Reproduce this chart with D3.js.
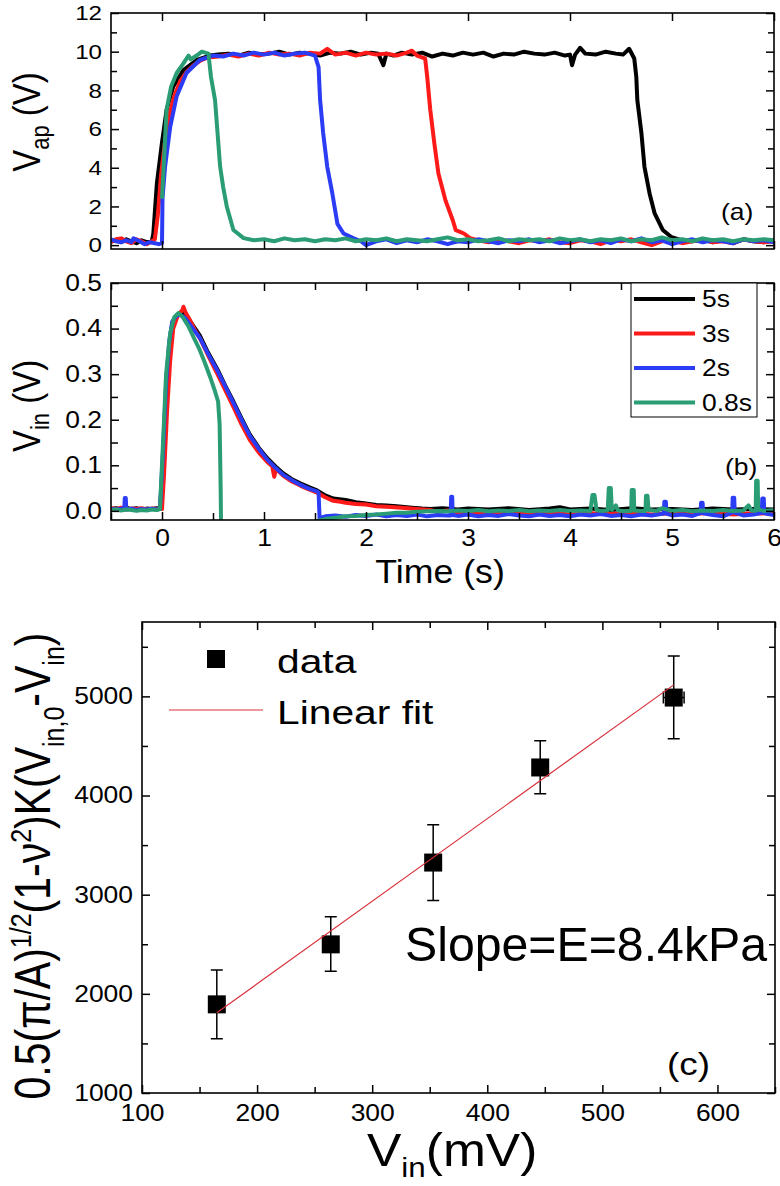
<!DOCTYPE html>
<html><head><meta charset="utf-8">
<script src="https://cdn.jsdelivr.net/npm/d3@7"></script>
<style>
body{margin:0;background:#fff}
svg{display:block}
text{font-family:"Liberation Sans",Arial,sans-serif;fill:#000}
</style>
</head><body>
<svg id="c" width="780" height="1186"></svg>
<script>
// ---------------- DATA ----------------
// Panel (a): V_ap (V) vs time (s), one [t, V] list per pulse length
const vap5s = [[-0.5,0.2],[-0.45,0.25],[-0.4,0.15],[-0.35,0.3],[-0.3,0.2],[-0.25,0.1],[-0.2,0.25],[-0.15,0.15],[-0.1,0.2],[-0.085,0.6],[-0.05,3.2],[0,5.3],[0.045,7.0],[0.11,8.2],[0.21,9.05],[0.34,9.57],[0.47,9.8],[0.55,9.85],[0.65,9.9],[0.75,9.8],[0.85,9.95],[0.95,9.85],[1.05,9.9],[1.15,10.0],[1.25,9.85],[1.35,9.95],[1.45,9.9],[1.55,9.8],[1.65,9.95],[1.75,9.9],[1.85,10.0],[1.95,9.85],[2.05,9.95],[2.12,9.9],[2.17,9.3],[2.2,9.9],[2.27,9.8],[2.35,9.95],[2.45,9.85],[2.55,9.95],[2.65,9.75],[2.75,9.9],[2.85,9.8],[2.95,9.95],[3.05,9.85],[3.15,9.95],[3.25,9.75],[3.35,9.9],[3.45,9.85],[3.55,10.0],[3.65,9.9],[3.75,9.85],[3.85,9.95],[3.95,9.8],[4.0,9.85],[4.02,9.3],[4.05,9.85],[4.1,10.2],[4.15,9.9],[4.25,9.85],[4.35,10.0],[4.45,9.9],[4.52,9.85],[4.58,10.15],[4.63,9.65],[4.65,8.7],[4.66,7.5],[4.7,5.8],[4.73,4.05],[4.78,2.67],[4.83,1.64],[4.91,0.78],[4.99,0.43],[5.09,0.26],[5.2,0.2],[5.3,0.3],[5.4,0.15],[5.5,0.25],[5.6,0.1],[5.7,0.3],[5.8,0.2],[5.9,0.15],[6.0,0.25]];
const vap3s = [[-0.5,0.15],[-0.45,0.3],[-0.4,0.35],[-0.35,0.2],[-0.3,0.1],[-0.25,0.3],[-0.2,0.2],[-0.15,0.05],[-0.1,0.2],[-0.07,0.3],[-0.04,1.6],[-0.01,3.6],[0.03,5.4],[0.07,6.7],[0.12,7.7],[0.18,8.5],[0.25,9.0],[0.31,9.3],[0.38,9.55],[0.45,9.7],[0.55,9.75],[0.65,9.85],[0.75,9.75],[0.85,9.9],[0.95,9.8],[1.05,9.95],[1.15,9.85],[1.25,9.9],[1.35,9.8],[1.45,9.95],[1.55,9.9],[1.62,10.15],[1.7,9.85],[1.8,9.95],[1.9,9.8],[2.0,9.95],[2.1,9.85],[2.2,9.9],[2.3,9.8],[2.4,9.95],[2.45,10.05],[2.5,9.8],[2.55,9.7],[2.58,9.65],[2.6,8.7],[2.63,7.0],[2.67,5.26],[2.71,3.7],[2.78,2.3],[2.85,1.3],[2.88,0.78],[2.96,0.6],[3.02,0.36],[3.1,0.25],[3.2,0.15],[3.3,0.3],[3.4,0.2],[3.5,0.1],[3.6,0.25],[3.7,0.2],[3.8,0.3],[3.9,0.15],[4.0,0.1],[4.1,0.25],[4.2,0.2],[4.3,0.05],[4.4,0.25],[4.5,0.2],[4.6,0.3],[4.7,0.15],[4.8,0.0],[4.9,0.2],[5.0,0.25],[5.1,0.1],[5.2,0.2],[5.3,0.3],[5.4,0.15],[5.5,0.2],[5.6,0.1],[5.7,0.3],[5.8,0.2],[5.9,0.15],[6.0,0.2]];
const vap2s = [[-0.5,0.3],[-0.45,0.2],[-0.4,0.15],[-0.35,0.25],[-0.3,0.15],[-0.28,0.35],[-0.22,0.2],[-0.17,0.05],[-0.12,0.15],[-0.07,0.1],[-0.03,0.05],[0.0,0.1],[0.005,2.4],[0.03,4.05],[0.08,6.1],[0.144,7.7],[0.24,8.9],[0.37,9.57],[0.5,9.8],[0.6,9.75],[0.7,9.9],[0.8,9.8],[0.9,9.95],[1.0,9.85],[1.1,9.95],[1.2,9.8],[1.3,9.9],[1.4,9.95],[1.5,9.8],[1.535,9.2],[1.55,7.5],[1.58,5.8],[1.62,4.05],[1.67,2.67],[1.72,1.1],[1.78,0.6],[1.88,0.35],[1.95,0.2],[2.0,0.0],[2.1,0.2],[2.2,0.3],[2.3,0.1],[2.4,0.25],[2.5,0.15],[2.6,0.3],[2.7,0.2],[2.8,0.05],[2.9,0.2],[3.0,0.15],[3.1,0.3],[3.2,0.2],[3.3,0.1],[3.4,0.25],[3.5,0.2],[3.6,0.3],[3.7,0.15],[3.8,0.25],[3.9,0.1],[4.0,0.2],[4.1,0.3],[4.2,0.15],[4.3,0.25],[4.4,0.1],[4.5,0.3],[4.6,0.2],[4.7,0.35],[4.8,0.15],[4.9,0.25],[5.0,0.05],[5.1,0.2],[5.2,0.3],[5.3,0.15],[5.4,0.25],[5.5,0.2],[5.6,0.1],[5.7,0.3],[5.8,0.2],[5.9,0.25],[6.0,0.15]];
const vap08s = [[0.0,2.4],[0.045,7.0],[0.09,8.2],[0.144,8.9],[0.21,9.4],[0.26,9.8],[0.28,9.6],[0.34,9.8],[0.39,10.0],[0.455,9.9],[0.48,8.7],[0.52,7.5],[0.57,4.05],[0.6,3.0],[0.635,2.0],[0.7,0.78],[0.8,0.36],[0.9,0.25],[1.0,0.3],[1.1,0.2],[1.2,0.35],[1.3,0.25],[1.4,0.3],[1.5,0.2],[1.6,0.3],[1.7,0.25],[1.8,0.35],[1.9,0.2],[2.0,0.3],[2.1,0.25],[2.2,0.35],[2.3,0.2],[2.4,0.3],[2.5,0.25],[2.6,0.2],[2.7,0.3],[2.8,0.4],[2.9,0.25],[3.0,0.3],[3.1,0.2],[3.2,0.25],[3.3,0.35],[3.4,0.2],[3.5,0.3],[3.6,0.25],[3.7,0.3],[3.8,0.2],[3.9,0.35],[4.0,0.25],[4.1,0.3],[4.2,0.2],[4.3,0.3],[4.4,0.25],[4.5,0.35],[4.6,0.2],[4.7,0.3],[4.8,0.25],[4.9,0.4],[5.0,0.25],[5.1,0.3],[5.2,0.2],[5.3,0.35],[5.4,0.25],[5.5,0.3],[5.6,0.2],[5.7,0.3],[5.8,0.25],[5.9,0.3],[6.0,0.25]];

// Panel (b): V_in (V) vs time (s)
const vin5s = [[-0.5,0.004],[-0.45,0.006],[-0.4,0.003],[-0.35,0.007],[-0.3,0.004],[-0.25,0.006],[-0.2,0.002],[-0.15,0.005],[-0.1,0.004],[-0.05,0.006],[-0.02,0.004],[0.01,0.1],[0.04,0.25],[0.07,0.35],[0.1,0.41],[0.15,0.43],[0.2,0.435],[0.25,0.425],[0.3,0.408],[0.37,0.385],[0.45,0.348],[0.54,0.312],[0.62,0.275],[0.7,0.24],[0.78,0.203],[0.86,0.168],[0.95,0.138],[1.03,0.116],[1.11,0.098],[1.19,0.082],[1.27,0.07],[1.36,0.06],[1.44,0.052],[1.52,0.045],[1.6,0.034],[1.68,0.027],[1.8,0.024],[1.9,0.019],[1.98,0.017],[2.1,0.013],[2.2,0.012],[2.3,0.01],[2.45,0.007],[2.55,0.005],[2.63,0.004],[2.75,0.006],[2.9,0.003],[3.0,0.005],[3.2,0.003],[3.4,0.006],[3.6,0.002],[3.8,0.005],[3.9,0.008],[4.0,0.003],[4.2,0.005],[4.4,0.002],[4.6,0.006],[4.8,0.003],[5.0,0.004],[5.2,0.002],[5.4,0.005],[5.6,0.003],[5.8,0.004],[6.0,0.003]];
const vin3s = [[-0.5,0.006],[-0.45,0.004],[-0.4,0.007],[-0.35,0.003],[-0.3,0.005],[-0.25,0.004],[-0.2,0.006],[-0.15,0.003],[-0.1,0.005],[-0.05,0.004],[0.0,0.004],[0.02,0.08],[0.05,0.22],[0.08,0.33],[0.11,0.4],[0.16,0.432],[0.2,0.44],[0.21,0.448],[0.23,0.436],[0.27,0.42],[0.32,0.398],[0.38,0.375],[0.45,0.342],[0.54,0.302],[0.62,0.265],[0.7,0.228],[0.78,0.19],[0.86,0.156],[0.95,0.128],[1.03,0.108],[1.08,0.098],[1.1,0.075],[1.12,0.092],[1.19,0.077],[1.27,0.065],[1.36,0.055],[1.44,0.047],[1.52,0.04],[1.6,0.03],[1.68,0.022],[1.75,0.02],[1.8,0.018],[1.9,0.015],[2.0,0.014],[2.1,0.01],[2.2,0.009],[2.35,0.007],[2.5,0.004],[2.63,0.002],[2.7,-0.002],[2.8,0.001],[2.9,-0.003],[3.0,-0.004],[3.2,-0.006],[3.4,-0.003],[3.6,-0.007],[3.8,-0.004],[4.0,-0.008],[4.2,-0.005],[4.4,-0.007],[4.6,-0.004],[4.8,-0.008],[5.0,-0.005],[5.2,-0.007],[5.4,-0.004],[5.6,-0.008],[5.8,-0.005],[6.0,-0.006]];
const vin2s = [[-0.5,0.004],[-0.45,0.003],[-0.4,0.005],[-0.37,0.004],[-0.365,0.028],[-0.355,0.028],[-0.35,0.003],[-0.3,0.005],[-0.25,0.002],[-0.2,0.004],[-0.15,0.003],[-0.1,0.005],[-0.05,0.003],[-0.02,0.005],[0.01,0.13],[0.04,0.28],[0.07,0.37],[0.1,0.415],[0.14,0.428],[0.18,0.43],[0.22,0.425],[0.27,0.41],[0.32,0.395],[0.37,0.38],[0.45,0.345],[0.54,0.309],[0.62,0.273],[0.7,0.237],[0.78,0.2],[0.86,0.165],[0.95,0.136],[1.03,0.113],[1.11,0.095],[1.19,0.079],[1.27,0.068],[1.36,0.057],[1.44,0.049],[1.52,0.043],[1.535,0.04],[1.545,-0.016],[1.6,-0.012],[1.7,-0.01],[1.8,-0.013],[1.9,-0.009],[2.0,-0.011],[2.1,-0.008],[2.2,-0.012],[2.3,-0.009],[2.4,-0.011],[2.5,-0.008],[2.6,-0.012],[2.7,-0.009],[2.8,-0.01],[2.83,-0.01],[2.835,0.031],[2.845,0.031],[2.85,-0.009],[2.9,-0.011],[3.0,-0.008],[3.1,-0.012],[3.2,-0.009],[3.3,-0.011],[3.4,-0.007],[3.5,-0.01],[3.6,-0.012],[3.7,-0.008],[3.8,-0.011],[3.9,-0.009],[4.0,-0.012],[4.1,-0.008],[4.2,-0.01],[4.3,-0.007],[4.4,-0.011],[4.5,-0.009],[4.6,-0.012],[4.7,-0.008],[4.8,-0.01],[4.92,-0.006],[4.925,0.02],[4.94,0.02],[4.945,-0.006],[5.0,-0.01],[5.1,-0.008],[5.2,-0.011],[5.28,-0.005],[5.285,0.018],[5.3,0.018],[5.305,-0.005],[5.4,-0.009],[5.5,-0.012],[5.59,-0.004],[5.595,0.029],[5.61,0.029],[5.615,-0.004],[5.7,-0.01],[5.8,-0.008],[5.88,-0.004],[5.885,0.027],[5.9,0.027],[5.905,-0.005],[6.0,-0.009]];
const vin08s = [[-0.5,0.002],[-0.45,0.003],[-0.4,0.001],[-0.35,0.003],[-0.3,0.002],[-0.25,0.0],[-0.2,0.002],[-0.15,0.001],[-0.1,0.003],[-0.05,0.002],[-0.02,0.004],[0.01,0.15],[0.04,0.3],[0.08,0.39],[0.12,0.425],[0.16,0.434],[0.2,0.426],[0.26,0.405],[0.32,0.376],[0.37,0.353],[0.42,0.325],[0.47,0.295],[0.52,0.262],[0.55,0.24],[0.565,0.19],[0.575,0.05],[0.58,-0.05],[1.5,-0.05],[1.52,-0.022],[1.6,-0.018],[1.7,-0.015],[1.8,-0.012],[1.9,-0.011],[2.0,-0.009],[2.1,-0.008],[2.2,-0.006],[2.3,-0.004],[2.4,-0.004],[2.5,-0.002],[2.6,-0.001],[2.7,0.0],[2.8,-0.001],[2.9,0.001],[3.0,0.0],[3.1,0.002],[3.2,-0.001],[3.3,0.001],[3.4,0.0],[3.5,0.002],[3.6,-0.001],[3.7,0.001],[3.8,0.0],[3.9,0.002],[4.0,0.0],[4.1,0.001],[4.2,0.0],[4.22,0.035],[4.24,0.035],[4.26,0.002],[4.3,0.0],[4.37,0.001],[4.38,0.05],[4.4,0.05],[4.41,0.002],[4.45,0.012],[4.47,0.001],[4.52,0.0],[4.6,0.0],[4.605,0.046],[4.625,0.046],[4.63,0.001],[4.7,0.0],[4.74,0.0],[4.745,0.033],[4.76,0.033],[4.77,0.002],[4.85,0.0],[4.9,0.006],[5.0,0.0],[5.1,0.002],[5.2,-0.001],[5.3,0.001],[5.4,0.0],[5.5,0.002],[5.6,0.0],[5.7,0.001],[5.75,0.012],[5.78,0.001],[5.82,0.0],[5.825,0.066],[5.84,0.066],[5.845,0.003],[5.9,0.0],[6.0,0.002]];

const seriesNames = ["5s","3s","2s","0.8s"];
const seriesColors = ["#000000","#ff1a1a","#2b3cf5","#2a9d74"];

// Panel (c)
const vinMV = [165, 264, 353, 446, 562];
const stressVal = [1894, 2499, 3324, 4283, 4988];
const errLow = [1547, 2229, 2942, 4017, 4572];
const errHigh = [2241, 2777, 3705, 4553, 5408];
const xErr = [0, 0, 0, 0, 9];
const fitX = [165, 562];
const fitY = [1809, 5116];

// Tick values
const timeTicks = [0,1,2,3,4,5,6];
const timeMinor = [-0.5,0.5,1.5,2.5,3.5,4.5,5.5];
const vapTicks = [0,2,4,6,8,10,12];
const vapMinor = [1,3,5,7,9,11];
const vinTicks = [0.0,0.1,0.2,0.3,0.4,0.5];
const vinMinor = [0.05,0.15,0.25,0.35,0.45];
const cxTicks = [100,200,300,400,500,600];
const cxMinor = [150,250,350,450,550,650];
const cyTicks = [1000,2000,3000,4000,5000];
const cyMinor = [1500,2500,3500,4500,5500];

// ---------------- DRAW ----------------
const svg = d3.select("#c");
const SX = 1.15; // horizontal stretch of the original lettering

const xT = d3.scaleLinear().domain([-0.5,6]).range([111,774]);
const yA = d3.scaleLinear().domain([-0.2,12]).range([249,13]);
const yB = d3.scaleLinear().domain([-0.02,0.5]).range([520,283]);
const xC = d3.scaleLinear().domain([100,650]).range([142,775]);
const yC = d3.scaleLinear().domain([1000,5750]).range([1093,622]);

function clip(id, x0, y0, x1, y1){
  svg.append("clipPath").attr("id", id).append("rect")
    .attr("x", x0).attr("y", y0).attr("width", x1-x0).attr("height", y1-y0);
}
clip("clipA", 111, 13, 774, 249);
clip("clipB", 111, 283, 774, 520);

function stretchTicks(g, fs, sx){
  g.selectAll("text").each(function(){
    const t = d3.select(this);
    const x = +t.attr("x") || 0;
    t.attr("x", x/sx).attr("transform", `scale(${sx},1)`).attr("font-size", fs)
     .attr("font-family", '"Liberation Sans",Arial,sans-serif').attr("fill","#000");
  });
}

function axisSet(xs, ys, opt){
  const [x0,x1] = xs.range(); const [y0,y1] = ys.range(); // y0 bottom
  const mk = (gen, pos, scale, vals, size, labels, fmt, pad) => {
    const a = gen(scale).tickValues(vals).tickSizeInner(-size).tickSizeOuter(0).tickPadding(pad || 9)
      .tickFormat(labels ? fmt : () => "");
    const g = svg.append("g").attr("transform", pos).call(a);
    g.select(".domain").remove();
    g.selectAll("line").attr("stroke","#000").attr("stroke-width",1.5);
    return g;
  };
  const gl = mk(d3.axisLeft, `translate(${x0},0)`, ys, opt.yTicks, opt.yMaj, true, opt.yFmt, opt.ypad);
  stretchTicks(gl, opt.yFs, SX);
  mk(d3.axisLeft, `translate(${x0},0)`, ys, opt.yMinor, opt.yMin, false);
  mk(d3.axisRight, `translate(${x1},0)`, ys, opt.yTicks, opt.yMaj, false);
  mk(d3.axisRight, `translate(${x1},0)`, ys, opt.yMinor, opt.yMin, false);
  mk(d3.axisTop, `translate(0,${y1})`, xs, opt.xTicks, opt.xMaj, false);
  if (opt.xMinor) mk(d3.axisTop, `translate(0,${y1})`, xs, opt.xMinor, opt.xMin, false);
  const gb = mk(d3.axisBottom, `translate(0,${y0})`, xs, opt.xTicks, opt.xMaj, opt.xLabels, opt.xFmt, opt.xpad);
  if (opt.xLabels) stretchTicks(gb, opt.xFs, SX);
  if (opt.xMinor) mk(d3.axisBottom, `translate(0,${y0})`, xs, opt.xMinor, opt.xMin, false);
  svg.append("rect").attr("x", x0).attr("y", y1).attr("width", x1-x0).attr("height", y0-y1)
    .attr("fill","none").attr("stroke","#000").attr("stroke-width",1.6);
}

// ----- Panel (a)
const lineA = d3.line().x(d => xT(d[0])).y(d => yA(d[1]));
const gA = svg.append("g").attr("clip-path","url(#clipA)");
[vap5s, vap3s, vap2s, vap08s].forEach((s,i) => {
  gA.append("path").datum(s).attr("d", lineA).attr("fill","none")
    .attr("stroke", seriesColors[i]).attr("stroke-width", 4).attr("stroke-linejoin","round");
});
axisSet(xT, yA, {yTicks: vapTicks, yMinor: vapMinor, yMaj: 8, yMin: 6, yFs: 21, yFmt: d3.format("d"),
  xTicks: timeTicks, xMinor: null, xMaj: 8, xLabels: false});

// ----- Panel (b)
const lineB = d3.line().x(d => xT(d[0])).y(d => yB(d[1]));
const gB = svg.append("g").attr("clip-path","url(#clipB)");
[vin5s, vin3s, vin2s, vin08s].forEach((s,i) => {
  gB.append("path").datum(s).attr("d", lineB).attr("fill","none")
    .attr("stroke", seriesColors[i]).attr("stroke-width", 4).attr("stroke-linejoin","round");
});
axisSet(xT, yB, {yTicks: vinTicks, yMinor: vinMinor, yMaj: 8, yMin: 7, yFs: 23, yFmt: d3.format(".1f"),
  xTicks: timeTicks, xMinor: timeMinor, xMaj: 8, xMin: 7, xLabels: true, xFs: 23, xFmt: d3.format("d"), xpad: 10});

// legend (b)
const lg = svg.append("g");
lg.append("rect").attr("x",631).attr("y",283).attr("width",126).attr("height",134)
  .attr("fill","#fff").attr("stroke","#000").attr("stroke-width",1);
seriesNames.forEach((n,i) => {
  const y = 299 + i*34.5;
  lg.append("line").attr("x1",634).attr("x2",695).attr("y1",y).attr("y2",y)
    .attr("stroke",seriesColors[i]).attr("stroke-width",4);
  lg.append("text").attr("transform",`translate(702,${y+8}) scale(${SX},1)`).attr("font-size",23).text(n);
});

function label(x, y, fs, txt, anchor, sx){
  return svg.append("text").attr("transform",`translate(${x},${y}) scale(${sx||SX},1)`)
    .attr("font-size",fs).attr("text-anchor",anchor||"start").text(txt);
}
label(721, 220, 23, "(a)");
label(725, 475, 23, "(b)");

// axis titles (a),(b)
const ta = svg.append("text").attr("transform",`translate(40,122) scale(${SX},1) rotate(-90)`)
  .attr("font-size",33).attr("text-anchor","middle");
ta.append("tspan").text("V");
ta.append("tspan").attr("font-size",22).attr("dy",8).text("ap");
ta.append("tspan").attr("dy",-8).text(" (V)");
const tb = svg.append("text").attr("transform",`translate(40,406) scale(${SX},1) rotate(-90)`)
  .attr("font-size",33).attr("text-anchor","middle");
tb.append("tspan").text("V");
tb.append("tspan").attr("font-size",22).attr("dy",8).text("in");
tb.append("tspan").attr("dy",-8).text(" (V)");
label(440, 583, 34, "Time (s)", "middle", 1.05);

// ----- Panel (c)
const lineC = d3.line().x(d => xC(d[0])).y(d => yC(d[1]));
const pts = vinMV.map((v,i) => ({x:v, y:stressVal[i], lo:errLow[i], hi:errHigh[i], xe:xErr[i]}));
const gC = svg.append("g");
gC.selectAll(".eb").data(pts).join("path").attr("fill","none").attr("stroke","#000").attr("stroke-width",1.5)
  .attr("d", d => {
    const x = xC(d.x), c = 6;
    let p = `M${x},${yC(d.lo)}V${yC(d.hi)}M${x-c},${yC(d.hi)}H${x+c}M${x-c},${yC(d.lo)}H${x+c}`;
    if (d.xe) { const a = xC(d.x-d.xe), b = xC(d.x+d.xe), y = yC(d.y);
      p += `M${a},${y}H${b}M${a},${y-6}V${y+6}M${b},${y-6}V${y+6}`; }
    return p;
  });
gC.selectAll(".sq").data(pts).join("rect")
  .attr("x", d => xC(d.x)-9).attr("y", d => yC(d.y)-9).attr("width",18).attr("height",18).attr("fill","#000");
gC.append("path").datum(fitX.map((x,i)=>[x,fitY[i]])).attr("d", lineC)
  .attr("fill","none").attr("stroke","#d8303a").attr("stroke-width",1.2);

axisSet(xC, yC, {yTicks: cyTicks, yMinor: cyMinor, yMaj: 8, yMin: 6, yFs: 23, yFmt: d3.format("d"),
  xTicks: cxTicks, xMinor: cxMinor, xMaj: 8, xMin: 6, xLabels: true, xFs: 23, xFmt: d3.format("d"), xpad: 12});

// legend (c)
svg.append("rect").attr("x",207).attr("y",650).attr("width",18).attr("height",18).attr("fill","#000");
label(277, 673, 34, "data", "start", 1.2);
svg.append("line").attr("x1",169).attr("x2",263).attr("y1",710).attr("y2",710).attr("stroke","#d8303a").attr("stroke-width",1.2);
label(277, 724, 34, "Linear fit", "start", 1.2);
svg.append("text").attr("x",405).attr("y",961).attr("font-size",48)
  .attr("textLength",362).attr("lengthAdjust","spacingAndGlyphs").text("Slope=E=8.4kPa");
label(667, 1075, 32, "(c)");

// x title (c)
const tcx = svg.append("text").attr("transform",`translate(367,1166) scale(1.12,1)`).attr("font-size",46);
tcx.append("tspan").text("V");
tcx.append("tspan").attr("font-size",28).attr("dy",11).text("in");
tcx.append("tspan").attr("dy",-11).text("(mV)");

// y title (c)
const tcy = svg.append("text").attr("transform",`translate(50,866) scale(1.2,1) rotate(-90)`)
  .attr("font-size",41).attr("text-anchor","middle");
const parts = [["0.5(π/A)",0,null],["1/2",-16,25],["(1-ν",16,null],["2",-16,25],[")K(V",16,null],["in,0",12,25],["-V",-12,null],["in",12,25],[")",-12,null]];
parts.forEach(p => { const t = tcy.append("tspan").attr("dy",p[1]).text(p[0]); if (p[2]) t.attr("font-size",p[2]); });
</script>
</body></html>
